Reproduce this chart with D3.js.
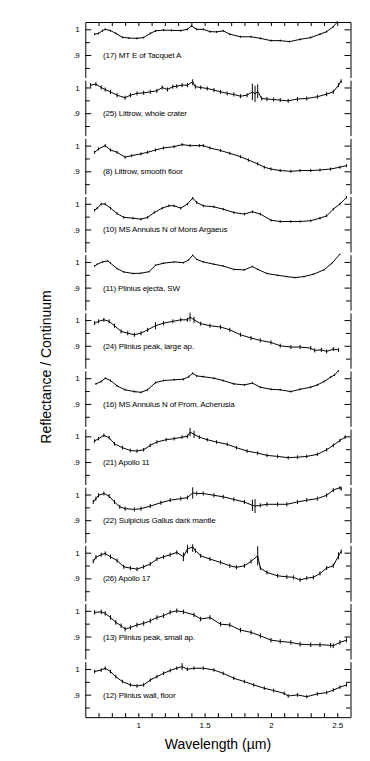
<!DOCTYPE html>
<html><head><meta charset="utf-8">
<script src="https://cdn.jsdelivr.net/npm/d3@7"></script>
<style>body{margin:0;background:#fff}svg text{font-family:"Liberation Sans",Arial,Helvetica,sans-serif;fill:#000}</style>
</head><body>
<svg id="c" width="370" height="761"></svg>
<script>
// ---- data: [wavelength µm, reflectance/continuum, (optional error)] ----
const labels = [
  "(17) MT E of Tacquet A",
  "(25) Littrow, whole crater",
  "(8) Littrow, smooth floor",
  "(10) MS Annulus N of Mons Argaeus",
  "(11) Plinius ejecta, SW",
  "(24) Plinius peak, large ap.",
  "(16) MS Annulus N of Prom. Acherusia",
  "(21) Apollo 11",
  "(22) Sulpicius Gallus dark mantle",
  "(26) Apollo 17",
  "(13) Plinius peak, small ap.",
  "(12) Plinius wall, floor"
];
const baseErr = [0.002, 0.006, 0.004, 0.003, 0.001, 0.006, 0.002, 0.005, 0.006, 0.006, 0.007, 0.005];

const s17 = [[0.67,0.981],[0.70,0.984],[0.73,0.995],[0.75,1.000],[0.79,0.995],[0.83,0.984],[0.88,0.969],[0.93,0.966],[0.99,0.965],[1.04,0.968],[1.09,0.984],[1.13,0.994],[1.19,0.997],[1.25,0.996],[1.32,0.995],[1.37,1.000],[1.40,1.013],[1.44,1.000],[1.49,1.000],[1.54,0.991],[1.59,0.990],[1.64,0.994],[1.69,0.981],[1.77,0.971],[1.85,0.971],[1.92,0.965],[2.00,0.956],[2.07,0.956],[2.14,0.952],[2.22,0.961],[2.30,0.968],[2.37,0.981],[2.42,0.991],[2.47,1.010],[2.50,1.028]];
const s25 = [[0.64,1.009],[0.68,1.013],[0.72,1.0],[0.75,0.992],[0.79,0.983],[0.84,0.970],[0.90,0.960],[0.94,0.970],[0.99,0.977],[1.04,0.979],[1.09,0.983],[1.14,0.987],[1.18,1.0],[1.22,0.992],[1.26,1.003],[1.29,1.005],[1.33,1.009],[1.37,1.009],[1.41,1.022,0.012],[1.43,1.003],[1.47,1.0],[1.52,0.996],[1.57,0.99],[1.62,0.983],[1.67,0.977],[1.72,0.973],[1.77,0.966],[1.82,0.970],[1.86,0.983,0.03],[1.88,0.975,0.03],[1.90,0.985,0.025],[1.93,0.957],[1.97,0.955],[2.02,0.953],[2.07,0.951],[2.13,0.948],[2.20,0.955],[2.27,0.957],[2.35,0.964],[2.42,0.974],[2.47,0.983],[2.51,1.009],[2.53,1.026]];
const s8 = [[0.67,0.974],[0.70,0.987],[0.75,1.0],[0.79,0.983],[0.84,0.974],[0.90,0.955],[0.95,0.961],[1.02,0.968],[1.07,0.974],[1.13,0.983],[1.19,0.991],[1.27,0.996],[1.33,1.004],[1.39,1.0],[1.46,1.0],[1.49,1.0],[1.54,0.991],[1.62,0.981],[1.69,0.970],[1.77,0.957],[1.83,0.944],[1.90,0.929],[1.95,0.916],[2.00,0.909],[2.07,0.903],[2.15,0.900],[2.22,0.903],[2.30,0.903],[2.37,0.905],[2.45,0.909],[2.52,0.916],[2.57,0.922]];
const s10 = [[0.67,0.975],[0.69,0.983],[0.72,0.999],[0.75,0.999],[0.79,0.983],[0.84,0.962],[0.89,0.947],[0.96,0.944],[1.02,0.940],[1.07,0.947],[1.12,0.966],[1.18,0.983],[1.23,0.992],[1.27,0.992],[1.32,0.983],[1.37,0.999],[1.41,1.022],[1.44,1.005],[1.49,0.992],[1.57,0.988],[1.64,0.979],[1.72,0.966],[1.80,0.960],[1.86,0.969],[1.92,0.960],[2.00,0.936],[2.07,0.931],[2.15,0.931],[2.22,0.931],[2.30,0.934],[2.37,0.944],[2.42,0.953],[2.47,0.979],[2.52,0.999],[2.57,1.025]];
const s11 = [[0.67,0.984],[0.69,0.991],[0.73,1.0],[0.77,1.004],[0.79,0.995],[0.84,0.974],[0.89,0.961],[0.96,0.955],[1.02,0.956],[1.08,0.962],[1.13,0.987],[1.19,0.995],[1.27,1.0],[1.34,0.997],[1.38,1.008],[1.41,1.026],[1.44,1.010],[1.49,1.0],[1.57,0.991],[1.64,0.984],[1.72,0.971],[1.80,0.969],[1.86,0.982],[1.90,0.971],[1.97,0.955],[2.05,0.948],[2.12,0.943],[2.18,0.939],[2.25,0.943],[2.32,0.952],[2.40,0.969],[2.46,0.995],[2.52,1.03]];
const s24 = [[0.67,0.988],[0.70,0.995],[0.74,1.001],[0.78,0.995],[0.82,0.978],[0.87,0.956],[0.92,0.949],[0.97,0.943],[1.02,0.949],[1.07,0.962],[1.13,0.978,0.012],[1.19,0.988],[1.26,0.995],[1.32,1.001],[1.37,1.001],[1.39,1.012,0.015],[1.42,1.001,0.01],[1.47,0.986],[1.54,0.978],[1.62,0.973],[1.69,0.962],[1.77,0.943],[1.85,0.930],[1.92,0.921],[2.00,0.913],[2.07,0.900],[2.15,0.895],[2.22,0.895],[2.30,0.891],[2.33,0.882],[2.38,0.884],[2.42,0.878],[2.47,0.887],[2.51,0.884]];
const s16 = [[0.68,0.978],[0.72,0.987],[0.75,1.0],[0.79,0.991],[0.84,0.970],[0.90,0.955],[0.97,0.948],[1.02,0.945],[1.07,0.955],[1.13,0.983],[1.19,0.991],[1.27,0.994],[1.34,0.996],[1.38,1.006],[1.41,1.019],[1.44,1.009],[1.49,1.006],[1.57,1.0],[1.64,0.991],[1.72,0.978],[1.80,0.974],[1.86,0.981],[1.92,0.965],[2.00,0.957],[2.07,0.955],[2.15,0.948],[2.22,0.957],[2.30,0.965],[2.35,0.974],[2.40,0.987],[2.45,1.004],[2.48,1.013],[2.51,1.030]];
const s21 = [[0.67,0.982],[0.70,0.991],[0.74,1.004],[0.78,0.995],[0.82,0.971],[0.88,0.956],[0.94,0.945],[0.99,0.943],[1.04,0.948],[1.09,0.965],[1.14,0.978],[1.21,0.987],[1.27,0.991],[1.33,0.997],[1.37,1.0],[1.39,1.017,0.015],[1.42,1.008,0.012],[1.46,0.997],[1.52,0.987],[1.59,0.978],[1.67,0.969],[1.74,0.956],[1.82,0.943],[1.90,0.935],[1.97,0.926],[2.05,0.922],[2.13,0.917],[2.20,0.919],[2.27,0.922],[2.35,0.930],[2.42,0.948],[2.47,0.965],[2.52,0.984],[2.56,0.997]];
const s22 = [[0.66,0.971],[0.68,0.984],[0.70,0.997],[0.74,1.004],[0.78,0.994],[0.82,0.971],[0.86,0.952],[0.90,0.945],[0.97,0.942],[1.02,0.945],[1.09,0.955],[1.17,0.968],[1.24,0.978],[1.32,0.984],[1.37,0.988],[1.41,1.006,0.02],[1.44,1.004],[1.49,1.004],[1.57,0.997],[1.64,0.991],[1.72,0.981],[1.80,0.971],[1.86,0.958,0.02],[1.88,0.955,0.025],[1.92,0.958],[1.97,0.962],[2.05,0.962],[2.12,0.962],[2.20,0.971],[2.27,0.978],[2.35,0.984],[2.42,0.997],[2.47,1.017],[2.52,1.027],[2.53,1.023]];
const s26 = [[0.66,0.966],[0.68,0.982],[0.72,0.992],[0.75,0.997],[0.79,0.984],[0.84,0.969],[0.89,0.945],[0.94,0.940],[0.99,0.936],[1.04,0.945],[1.09,0.956],[1.14,0.975],[1.19,0.984],[1.24,0.992],[1.29,1.001],[1.34,0.984,0.015],[1.37,1.014,0.015],[1.41,1.023,0.018],[1.43,1.008],[1.47,0.988],[1.54,0.975],[1.62,0.962],[1.69,0.949],[1.74,0.943],[1.80,0.949],[1.85,0.966],[1.90,0.988,0.035],[1.92,0.940],[1.97,0.923],[2.05,0.910],[2.12,0.906],[2.17,0.904],[2.22,0.894],[2.27,0.901],[2.32,0.904],[2.37,0.919],[2.42,0.940],[2.47,0.949],[2.51,0.988,0.012],[2.53,1.005]];
const s13 = [[0.67,0.994],[0.72,0.996],[0.75,0.990],[0.79,0.974],[0.83,0.955],[0.87,0.942],[0.90,0.929],[0.94,0.935],[0.99,0.945],[1.04,0.951],[1.09,0.961],[1.14,0.974],[1.19,0.981],[1.24,0.994],[1.29,1.0],[1.34,0.996],[1.42,0.984],[1.47,0.968],[1.54,0.974],[1.62,0.948],[1.69,0.945],[1.77,0.925],[1.85,0.916],[1.92,0.903],[2.00,0.886],[2.07,0.881],[2.15,0.877],[2.22,0.870],[2.30,0.868],[2.37,0.868],[2.45,0.866],[2.47,0.864],[2.52,0.877],[2.57,0.886]];
const s12 = [[0.67,0.990],[0.72,0.996],[0.75,1.003],[0.79,0.990],[0.83,0.970],[0.88,0.951],[0.94,0.938],[0.99,0.934],[1.04,0.938],[1.09,0.957],[1.14,0.970],[1.19,0.983],[1.24,0.994],[1.29,1.003],[1.33,1.009,0.012],[1.37,0.999],[1.42,1.003],[1.49,1.003],[1.57,0.996],[1.64,0.983],[1.72,0.964],[1.80,0.951],[1.87,0.938],[1.95,0.925],[2.02,0.916],[2.10,0.905],[2.13,0.895],[2.20,0.899],[2.27,0.892],[2.35,0.903],[2.42,0.908],[2.47,0.918],[2.52,0.929],[2.57,0.938]];

const spectra = [s17, s25, s8, s10, s11, s24, s16, s21, s22, s26, s13, s12];

const xTicks = [0.7,0.8,0.9,1.0,1.1,1.2,1.3,1.4,1.5,1.6,1.7,1.8,1.9,2.0,2.1,2.2,2.3,2.4,2.5];
const xTickLabels = [1, 1.5, 2, 2.5];
const yTicks = [0.85, 0.9, 0.95, 1];
const yTickLabels = {1: "1", 0.9: ".9"};

// ---- layout ----
const svg = d3.select("#c");
const X0 = 85.3, X1 = 350.5, TOP = 22, PITCH = 58.15, PH = 55.5;
const x = d3.scaleLinear().domain([0.6, 2.6]).range([X0, X1]);
const yDomain = [0.8125, 1.0285];
const BOTTOM = TOP + 11 * PITCH + PH;

const clipId = (i) => "clip" + i;

spectra.forEach((data, i) => {
  const top = TOP + i * PITCH;
  const y = d3.scaleLinear().domain(yDomain).range([top + PH, top]);

  svg.append("clipPath").attr("id", clipId(i))
    .append("rect").attr("x", X0).attr("y", top - 1).attr("width", X1 - X0).attr("height", PH + 2);

  // left axis
  const gl = svg.append("g").attr("transform", `translate(${X0},0)`)
    .call(d3.axisLeft(y).tickValues(yTicks).tickSizeInner(-5).tickSizeOuter(0).tickPadding(5.5)
      .tickFormat(d => yTickLabels[d] || ""));
  gl.selectAll("text").attr("font-size", 8).attr("font-family", null);
  gl.selectAll("line, path").attr("stroke", "#000").attr("stroke-width", 1);
  gl.selectAll(".tick line").attr("x2", d => (d === 1 || d === 0.9) ? 6 : 4.5);

  // right axis
  const gr = svg.append("g").attr("transform", `translate(${X1},0)`)
    .call(d3.axisRight(y).tickValues(yTicks).tickSizeInner(-5).tickSizeOuter(0).tickFormat(""));
  gr.selectAll("line, path").attr("stroke", "#000").attr("stroke-width", 1);
  gr.selectAll(".tick line").attr("x2", d => (d === 1 || d === 0.9) ? -6 : -4.5);

  // error bars
  const e0 = baseErr[i];
  const g = svg.append("g").attr("clip-path", `url(#${clipId(i)})`);
  g.selectAll("line.err").data(data).join("line")
    .attr("x1", d => x(d[0])).attr("x2", d => x(d[0]))
    .attr("y1", d => y(d[1] - (d[2] || e0)) + 0.5).attr("y2", d => y(d[1] + (d[2] || e0)) - 0.5)
    .attr("stroke", "#000").attr("stroke-width", 1);

  // spectrum line
  g.append("path").datum(data)
    .attr("d", d3.line().x(d => x(d[0])).y(d => y(d[1])).curve(d3.curveLinear))
    .attr("fill", "none").attr("stroke", "#000").attr("stroke-width", 1);

  // label
  svg.append("text").attr("x", 103).attr("y", y(0.9) + 3)
    .attr("font-size", 8).attr("letter-spacing", -0.15).text(labels[i]);
});

// top axis
const gt = svg.append("g").attr("transform", `translate(0,${TOP})`)
  .call(d3.axisTop(x).tickValues(xTicks).tickSizeInner(-4).tickSizeOuter(0).tickFormat(""));
gt.selectAll("line, path").attr("stroke", "#000");

// bottom axis
const gb = svg.append("g").attr("transform", `translate(0,${BOTTOM})`)
  .call(d3.axisBottom(x).tickValues(xTicks).tickSizeInner(-4).tickSizeOuter(0).tickPadding(5)
    .tickFormat(d => xTickLabels.some(v => Math.abs(v - d) < 1e-9) ? d3.format("")(+d.toFixed(1)) : ""));
gb.selectAll("line, path").attr("stroke", "#000");
gb.selectAll("text").attr("font-size", 8).attr("font-family", null);

// axis titles
svg.append("text").attr("x", (X0 + X1) / 2).attr("y", 749)
  .attr("text-anchor", "middle").attr("font-size", 14).text("Wavelength (µm)");
svg.append("text").attr("transform", `translate(51,367) rotate(-90)`)
  .attr("text-anchor", "middle").attr("font-size", 14).text("Reflectance / Continuum");
</script>
</body></html>
